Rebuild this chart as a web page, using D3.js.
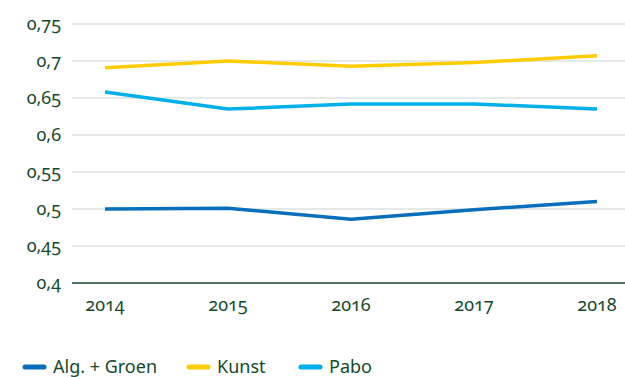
<!DOCTYPE html>
<html>
<head>
<meta charset="utf-8">
<script src="https://cdn.jsdelivr.net/npm/d3@7"></script>
<style>
  html, body { margin: 0; padding: 0; background: #fff; }
  svg text { font-family: "Noto Sans", "Open Sans", sans-serif; font-variant-numeric: oldstyle-nums; fill: #154a2a; }
</style>
</head>
<body>
<svg id="chart" width="625" height="377"></svg>
<script>
const years = ["2014", "2015", "2016", "2017", "2018"];
const algGroen = [0.500, 0.501, 0.486, 0.499, 0.510];
const kunst = [0.691, 0.700, 0.693, 0.698, 0.707];
const pabo = [0.658, 0.635, 0.642, 0.642, 0.635];
const yTicks = [0.4, 0.45, 0.5, 0.55, 0.6, 0.65, 0.7, 0.75];
const seriesNames = ["Alg. + Groen", "Kunst", "Pabo"];
const seriesColors = ["#0a6fba", "#ffcc00", "#00b0ea"];

const series = [algGroen, kunst, pabo];
const svg = d3.select("#chart");
const fmt = v => String(v).replace(".", ",");

const x = d3.scalePoint().domain(years).range([105, 597]);
const y = d3.scaleLinear().domain([0.4, 0.75]).range([283, 24]);

// horizontal gridlines
svg.append("g")
  .selectAll("line")
  .data(yTicks.filter(t => t > 0.4))
  .join("line")
  .attr("x1", 72).attr("x2", 625)
  .attr("y1", d => y(d)).attr("y2", d => y(d))
  .attr("stroke", "#dde3e2").attr("stroke-width", 1.5);

// baseline
svg.append("line")
  .attr("x1", 72).attr("x2", 625)
  .attr("y1", y(0.4)).attr("y2", y(0.4))
  .attr("stroke", "#154a2a").attr("stroke-width", 1.5);

// y tick labels
svg.append("g")
  .selectAll("text")
  .data(yTicks)
  .join("text")
  .attr("x", 61).attr("y", d => y(d))
  .attr("dy", "0.33em")
  .attr("text-anchor", "end")
  .attr("font-size", 18)
  .text(fmt);

// x tick labels
svg.append("g")
  .selectAll("text")
  .data(years)
  .join("text")
  .attr("x", d => x(d)).attr("y", 305)
  .attr("dy", "0.35em")
  .attr("text-anchor", "middle")
  .attr("font-size", 18)
  .text(d => d);

// series lines
const line = d3.line().x((d, i) => x(years[i])).y(d => y(d));
svg.append("g")
  .selectAll("path")
  .data(series)
  .join("path")
  .attr("d", d => line(d))
  .attr("fill", "none")
  .attr("stroke", (d, i) => seriesColors[i])
  .attr("stroke-width", 3.5)
  .attr("stroke-linejoin", "round");

// legend
const legendX = [25, 189, 301];
const legend = svg.append("g")
  .selectAll("g")
  .data(seriesNames)
  .join("g")
  .attr("transform", (d, i) => `translate(${legendX[i]},367)`);
legend.append("line")
  .attr("x1", 0).attr("x2", 19)
  .attr("stroke", (d, i) => seriesColors[i])
  .attr("stroke-width", 5)
  .attr("stroke-linecap", "round");
legend.append("text")
  .attr("x", 28).attr("dy", "0.35em")
  .attr("font-size", 18)
  .text(d => d);
</script>
</body>
</html>
